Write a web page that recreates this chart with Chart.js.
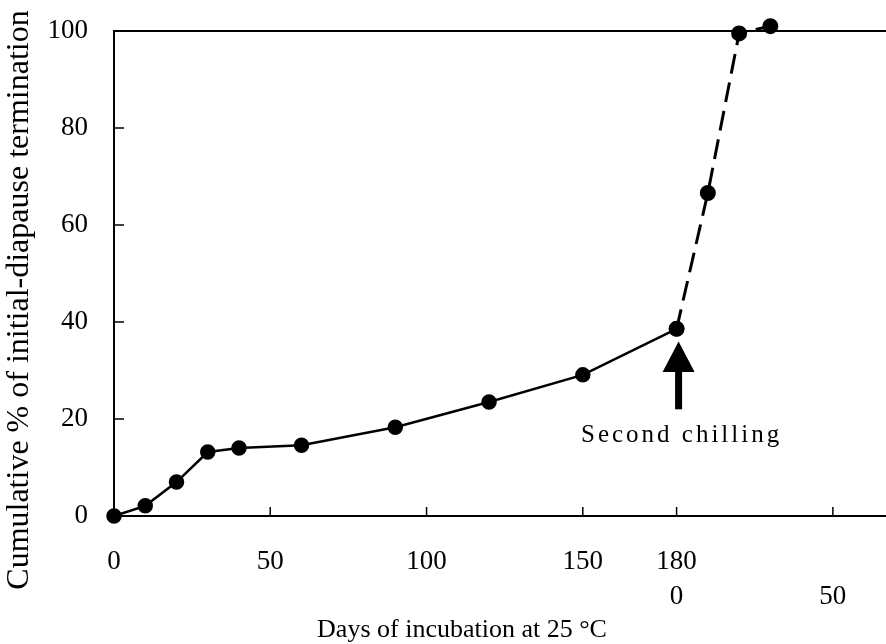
<!DOCTYPE html>
<html><head><meta charset="utf-8">
<script src="https://cdn.jsdelivr.net/npm/chart.js@4.4.0/dist/chart.umd.min.js"></script>
<style>html,body{margin:0;padding:0;background:#fff}#wrap{width:886px;height:644px;position:relative}</style>
</head><body><div id="wrap"><canvas id="c"></canvas></div>
<script>
// ---- data ----
const firstDays = [0, 10, 20, 30, 40, 60, 90, 120, 150, 180];
const firstPct  = [0, 2.1, 7, 13.2, 14, 14.6, 18.3, 23.5, 29.1, 38.6];
const secondDays = [0, 10, 20, 30];          // days after second chilling
const secondPct  = [38.6, 66.6, 99.5, 101];
const chillingDay = 180;                       // second chilling applied at day 180
const xTickValues = [0, 50, 100, 150, 180, 230];
const xTickLabels = [['0'], ['50'], ['100'], ['150'], ['180', '0'], ['', '50']];
const yTickValues = [0, 20, 40, 60, 80, 100];
const xTitle = 'Days of incubation at 25 °C';
const yTitle = 'Cumulative % of initial-diapause termination';
const annotationText = 'Second chilling';

const SERIF = '"Liberation Serif", "DejaVu Serif", serif';

const firstData = firstDays.map((d, i) => ({x: d, y: firstPct[i]}));
const secondData = secondDays.map((d, i) => ({x: chillingDay + d, y: secondPct[i]}));

const decor = {
  id: 'decor',
  beforeDatasetsDraw(chart) {
    const {ctx, chartArea: a, scales: {x, y}} = chart;
    ctx.save();
    ctx.strokeStyle = '#000';
    ctx.lineWidth = 2;
    ctx.beginPath(); ctx.moveTo(a.left, a.top); ctx.lineTo(a.right, a.top); ctx.stroke();
    ctx.lineWidth = 1.5;
    yTickValues.forEach(v => {
      if (v === 0 || v === 100) return;
      const py = y.getPixelForValue(v);
      ctx.beginPath(); ctx.moveTo(a.left, py); ctx.lineTo(a.left + 10, py); ctx.stroke();
    });
    xTickValues.forEach(v => {
      if (v === 0) return;
      const px = x.getPixelForValue(v);
      ctx.beginPath(); ctx.moveTo(px, a.bottom); ctx.lineTo(px, a.bottom - 9); ctx.stroke();
    });
    ctx.restore();
  },
  afterDraw(chart) {
    const {ctx, scales: {x, y}} = chart;
    ctx.save();
    ctx.fillStyle = '#000';
    // arrow
    const ax = x.getPixelForValue(chillingDay) + 2;
    const yBase = y.getPixelForValue(22), yNeck = y.getPixelForValue(29.7), yTip = y.getPixelForValue(36);
    ctx.fillRect(ax - 3.5, yNeck, 7, yBase - yNeck);
    ctx.beginPath(); ctx.moveTo(ax - 16, yNeck); ctx.lineTo(ax + 16, yNeck); ctx.lineTo(ax, yTip); ctx.closePath(); ctx.fill();
    // annotation text
    ctx.font = '25px ' + SERIF;
    ctx.letterSpacing = '3px';
    ctx.textAlign = 'center'; ctx.textBaseline = 'middle';
    ctx.fillText(annotationText, ax + 3, y.getPixelForValue(16.7));
    ctx.letterSpacing = '0px';
    // axis titles
    ctx.font = '26px ' + SERIF;
    ctx.fillText(xTitle, 462, 630);
    ctx.translate(20, 300);
    ctx.rotate(-Math.PI / 2);
    ctx.font = '32px ' + SERIF;
    ctx.fillText(yTitle, 0, 0);
    ctx.restore();
  }
};

new Chart(document.getElementById('c'), {
  type: 'scatter',
  data: {
    datasets: [
      {data: firstData, showLine: true, borderColor: '#000', backgroundColor: '#000', borderWidth: 2.5,
       pointRadius: 6.5, pointHoverRadius: 6.5, clip: false},
      {data: secondData, showLine: true, borderColor: '#000', backgroundColor: '#000', borderWidth: 3,
       borderDash: [20, 9], pointRadius: 6.5, pointHoverRadius: 6.5, clip: false}
    ]
  },
  options: {
    responsive: true, maintainAspectRatio: false, animation: false,
    layout: {autoPadding: false, padding: {top: 31, right: 0, left: 0, bottom: 0}},
    plugins: {legend: {display: false}, tooltip: {enabled: false}},
    scales: {
      x: {
        type: 'linear', min: 0, max: 247,
        afterBuildTicks: s => { s.ticks = xTickValues.map(v => ({value: v})); },
        afterFit: s => { s.height = 128; },
        grid: {display: true, drawOnChartArea: false, drawTicks: true, tickLength: 28, color: 'rgba(0,0,0,0)'},
        border: {display: true, color: '#000', width: 2},
        ticks: {
          padding: 0, color: '#000', maxRotation: 0, autoSkip: false,
          font: {family: SERIF, size: 27, lineHeight: 1.3},
          callback: (v) => { const i = xTickValues.indexOf(v); return i >= 0 ? xTickLabels[i] : ''; }
        }
      },
      y: {
        type: 'linear', min: 0, max: 100,
        afterBuildTicks: s => { s.ticks = yTickValues.map(v => ({value: v})); },
        afterFit: s => { s.width = 114; },
        grid: {display: true, drawOnChartArea: false, drawTicks: true, tickLength: 26, color: 'rgba(0,0,0,0)'},
        border: {display: true, color: '#000', width: 2},
        ticks: {padding: 0, color: '#000', font: {family: SERIF, size: 27}}
      }
    }
  },
  plugins: [decor]
});
</script>
</body></html>
